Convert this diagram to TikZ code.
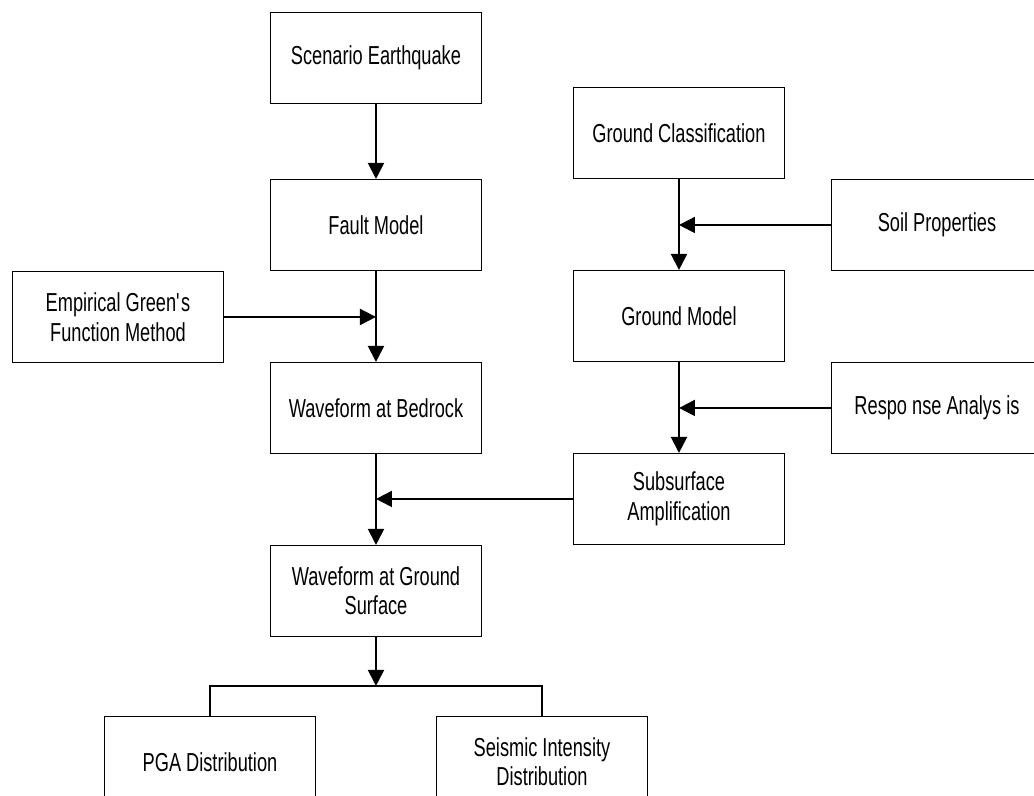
\documentclass[tikz,border=0pt]{standalone}
\usepackage{fontspec}
\setmainfont{Liberation Sans}[FakeStretch=0.7]
\usetikzlibrary{arrows.meta,positioning}

\begin{document}
\begin{tikzpicture}[
    node distance=2.275cm and 1.15cm,
    block/.style={
        draw,
        line width=0.7pt,
        align=center,
        minimum width=5.275cm,
        minimum height=2.275cm,
        inner sep=2pt,
        font=\fontsize{18.5}{21}\selectfont
    },
    arrow/.style={-{Triangle[length=0.4cm,width=0.4cm]}, line width=1.4pt},
    link/.style={line width=1.4pt}
]
\useasboundingbox (0,0) rectangle (25.85,-19.9);
\clip (0,0) rectangle (25.85,-19.9);

% main path
\node[block, anchor=north west] (scenario) at (6.75,-0.3) {Scenario Earthquake};
\node[block, below=1.875cm of scenario] (fault) {Fault Model};
\node[block, below left=0cm and 1.15cm of fault.south west] (egf) {Empirical Green\textquotesingle s\\Function Method};
\node[block, below=of fault] (bedrock) {Waveform at Bedrock};
\node[block, below=of bedrock] (wground) {Waveform at Ground\\Surface};

% ground side
\node[block, below right=1.875cm and 2.275cm of scenario.north east] (gclass) {Ground Classification};
\node[block, below right=0cm and 1.15cm of gclass.south east] (soil) {Soil Properties};
\node[block, below=of gclass] (gmodel) {Ground Model};
\node[block, below right=0cm and 1.15cm of gmodel.south east] (response) {Respo nse Analys is};
\node[block, below=of gmodel] (subsurf) {Subsurface\\Amplification};

% outputs
\coordinate[below=1.225cm of wground] (split);
\node[block, below=1.975cm of wground, xshift=-4.15cm] (pga) {PGA Distribution};
\node[block, below=1.975cm of wground, xshift=4.15cm] (intensity) {Seismic Intensity\\Distribution};

\draw[arrow] (scenario) -- (fault);
\draw[arrow] (fault) -- (bedrock);
\draw[arrow] (bedrock) -- (wground);
\draw[arrow] (gclass) -- (gmodel);
\draw[arrow] (gmodel) -- (subsurf);

\draw[arrow] (egf.east) -- (egf.east -| fault.south);
\draw[arrow] (soil.west) -- (soil.west -| gclass.south);
\draw[arrow] (response.west) -- (response.west -| gmodel.south);
\draw[arrow] (subsurf.west) -- (subsurf.west -| bedrock.south);

\draw[arrow] (wground) -- (split);
\draw[link] (pga.north) |- (split) -| (intensity.north);
\end{tikzpicture}
\end{document}
